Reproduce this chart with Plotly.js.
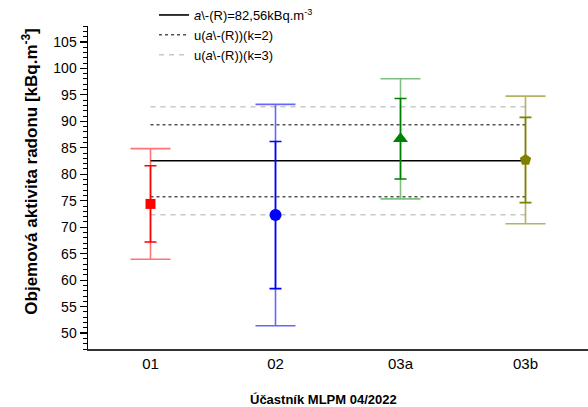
<!DOCTYPE html>
<html><head><meta charset="utf-8">
<script src="https://cdn.plot.ly/plotly-3.0.1.min.js"></script>
<style>html,body{margin:0;padding:0;background:#fff}#c{width:588px;height:407px}</style>
</head><body><div id="c"></div>
<script>
// Data
const categories = ['01', '02', '03a', '03b'];
const values = [74.4, 72.3, 86.7, 82.7];
const uInner = [7.2, 13.9, 7.6, 8.05];
const uOuter = [10.45, 20.9, 11.35, 12.05];
const refValue = 82.56;
const refU = 3.4;
const lineSpan = ['01', '03b'];
const legendNames = [
  '<i>a</i>\\-(R)=82,56kBq.m<sup>-3</sup>',
  'u(<i>a</i>\\-(R))(k=2)',
  'u(<i>a</i>\\-(R))(k=3)'
];
const yTitle = 'Objemová aktivita radonu [kBq.m<sup>-3</sup>]';
const xTitle = 'Účastník MLPM 04/2022';

const colors = ['#ff0000', '#0000ff', '#008000', '#808000'];
const outerColors = ['rgba(255,0,0,0.55)', 'rgba(0,0,255,0.6)', 'rgba(0,128,0,0.5)', 'rgba(128,128,0,0.6)'];
const symbols = ['square', 'circle', 'triangle-up', 'pentagon'];
const sizes = [10, 12, 13, 12];

const traces = [];
// reference lines
traces.push({x: lineSpan, y: [refValue, refValue], mode: 'lines', name: legendNames[0],
  line: {color: '#000', width: 1.6}, hoverinfo: 'skip'});
traces.push({x: lineSpan, y: [refValue + 2*refU, refValue + 2*refU], mode: 'lines', name: legendNames[1],
  line: {color: '#555', width: 1.5, dash: 'dot'}, legendgroup: 'k2'});
traces.push({x: lineSpan, y: [refValue - 2*refU, refValue - 2*refU], mode: 'lines', showlegend: false,
  line: {color: '#555', width: 1.5, dash: 'dot'}, legendgroup: 'k2'});
traces.push({x: lineSpan, y: [refValue + 3*refU, refValue + 3*refU], mode: 'lines', name: legendNames[2],
  line: {color: '#c8c8c8', width: 1.5, dash: '5px,5px'}, legendgroup: 'k3'});
traces.push({x: lineSpan, y: [refValue - 3*refU, refValue - 3*refU], mode: 'lines', showlegend: false,
  line: {color: '#c8c8c8', width: 1.5, dash: '5px,5px'}, legendgroup: 'k3'});

categories.forEach((c, i) => {
  traces.push({x: [c], y: [values[i]], mode: 'markers', showlegend: false,
    marker: {size: 1, color: 'rgba(0,0,0,0)'},
    error_y: {type: 'data', array: [uOuter[i]], visible: true, color: outerColors[i], thickness: 1.6, width: 20}});
  traces.push({x: [c], y: [values[i]], mode: 'markers', showlegend: false,
    marker: {size: sizes[i], color: colors[i], symbol: symbols[i]},
    error_y: {type: 'data', array: [uInner[i]], visible: true, color: colors[i], thickness: 1.6, width: 6}});
});

const layout = {
  width: 588, height: 407,
  margin: {l: 88, r: 0, t: 25, b: 58},
  paper_bgcolor: '#fff', plot_bgcolor: '#fff',
  font: {family: 'Liberation Sans, Arial, sans-serif', color: '#000', size: 13},
  showlegend: true,
  legend: {x: 0.132, xanchor: 'left', y: 1.081, yanchor: 'top', bgcolor: 'rgba(0,0,0,0)',
    font: {size: 13}, tracegroupgap: 0, itemwidth: 30},
  xaxis: {type: 'category', categoryorder: 'array', categoryarray: categories,
    range: [-0.5, 3.5], showgrid: false, zeroline: false, showline: true, linecolor: '#333', linewidth: 1.5,
    ticks: '', tickfont: {size: 15}, fixedrange: true},
  yaxis: {range: [47, 108], dtick: 5, tick0: 0, showgrid: false, zeroline: false, showline: true,
    linecolor: '#000', linewidth: 1.5, ticks: 'outside', ticklen: 7, tickwidth: 1.3, tickcolor: '#000',
    tickfont: {size: 14},
    minor: {dtick: 1, ticks: 'outside', ticklen: 4, tickwidth: 1, tickcolor: '#000'}},
  annotations: [
    {text: '<b>' + yTitle + '</b>', xref: 'paper', yref: 'paper', x: -0.116, y: 0.549, xanchor: 'center', yanchor: 'middle',
      textangle: -90, showarrow: false, font: {size: 17}},
    {text: '<b>' + xTitle + '</b>', xref: 'paper', yref: 'paper', x: 0.47, y: -0.155, xanchor: 'center', yanchor: 'middle',
      showarrow: false, font: {size: 13}}
  ]
};
Plotly.newPlot('c', traces, layout, {staticPlot: true});
</script></body></html>
